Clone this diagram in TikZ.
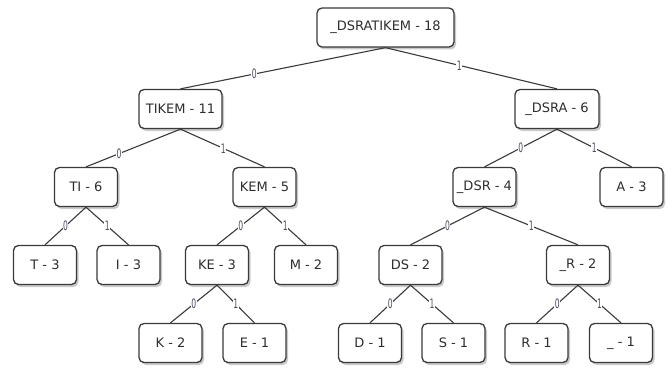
\documentclass[tikz,border=0pt]{standalone}
\usepackage{fontspec}
\setmainfont{DejaVu Sans}
\newfontfamily\labfont[FakeStretch=0.65]{DejaVu Sans Condensed}
\usetikzlibrary{shadows}
\definecolor{boxline}{HTML}{3A3A3A}
\definecolor{txt}{HTML}{2E2E2E}
\definecolor{labc}{HTML}{4A4F60}
\tikzset{
  hbox/.style={draw=boxline, line width=1.3pt, rounded corners=5pt, fill=white,
    minimum height=39pt, minimum width=63pt, inner sep=0pt,
    text=txt, font=\fontsize{13}{15}\selectfont,
    drop shadow={shadow xshift=2pt, shadow yshift=-2.5pt, opacity=0.35, fill=black!60}},
  edge/.style={draw=boxline, line width=1.1pt},
  bit/.style={fill=white, inner sep=0.5pt, text=labc, font=\labfont\fontsize{13}{14}\selectfont}
}
\begin{document}
\begin{tikzpicture}[x=1pt, y=-1pt]
\useasboundingbox (0,0) rectangle (672,369);
% level 0/1
\node[hbox, minimum width=137pt] (root) at (385.5,27.5) {\_DSRATIKEM - 18};
\node[hbox, minimum width=83pt] (tikem) at (180.5,109) {TIKEM - 11};
\node[hbox, minimum width=84pt] (dsra) at (557,109) {\_DSRA - 6};
% level 2
\node[hbox] (ti) at (86,187) {TI - 6};
\node[hbox] (kem) at (264.5,187) {KEM - 5};
\node[hbox] (dsr) at (484.5,187) {\_DSR - 4};
\node[hbox] (a) at (631.5,187) {A - 3};
% level 3
\node[hbox] (t) at (45,265) {T - 3};
\node[hbox] (i) at (128.5,265) {I - 3};
\node[hbox] (ke) at (217,265) {KE - 3};
\node[hbox] (m) at (306,265) {M - 2};
\node[hbox] (ds) at (410.5,265) {DS - 2};
\node[hbox] (r2) at (578,265) {\_R - 2};
% level 4
\node[hbox] (k) at (170.5,343) {K - 2};
\node[hbox] (e) at (254.5,343) {E - 1};
\node[hbox] (d) at (370,343) {D - 1};
\node[hbox] (s) at (453.5,343) {S - 1};
\node[hbox] (r) at (536.5,343) {R - 1};
\node[hbox] (u) at (621,343) {\_ - 1};
% edges
\draw[edge] (root.south) -- node[bit, pos=0.64] {0} (tikem.north);
\draw[edge] (root.south) -- node[bit, pos=0.43] {1} (dsra.north);
\draw[edge] (tikem.south) -- node[bit, pos=0.65] {0} (ti.north);
\draw[edge] (tikem.south) -- node[bit, pos=0.51] {1} (kem.north);
\draw[edge] (dsra.south) -- node[bit] {0} (dsr.north);
\draw[edge] (dsra.south) -- node[bit] {1} (a.north);
\draw[edge] (ti.south) -- node[bit] {0} (t.north);
\draw[edge] (ti.south) -- node[bit] {1} (i.north);
\draw[edge] (kem.south) -- node[bit] {0} (ke.north);
\draw[edge] (kem.south) -- node[bit] {1} (m.north);
\draw[edge] (dsr.south) -- node[bit] {0} (ds.north);
\draw[edge] (dsr.south) -- node[bit] {1} (r2.north);
\draw[edge] (ke.south) -- node[bit] {0} (k.north);
\draw[edge] (ke.south) -- node[bit] {1} (e.north);
\draw[edge] (ds.south) -- node[bit] {0} (d.north);
\draw[edge] (ds.south) -- node[bit] {1} (s.north);
\draw[edge] (r2.south) -- node[bit] {0} (r.north);
\draw[edge] (r2.south) -- node[bit] {1} (u.north);
\end{tikzpicture}
\end{document}
